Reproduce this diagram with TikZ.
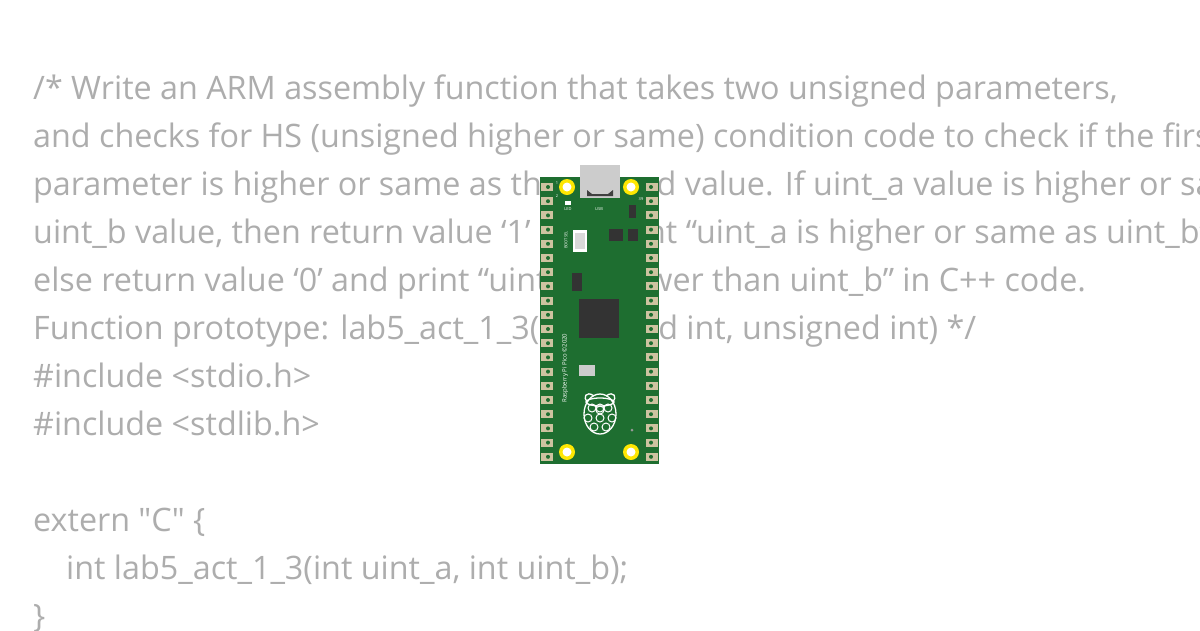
\documentclass[tikz,border=0pt]{standalone}
\usepackage{fontspec}
\setmainfont[Ligatures=TeXOff]{Open Sans}
\definecolor{pcb}{RGB}{30,110,48}
\definecolor{pad}{RGB}{205,195,160}
\begin{document}
\begin{tikzpicture}[x=1pt,y=-1pt,
  code/.style={anchor=base west,inner sep=0pt,text=black!32,font=\fontsize{32.3}{38}\selectfont},
  pin/.style={fill=pad,draw=none},
  hole/.style={fill=yellow!90!orange,draw=none},
  chip/.style={fill=black!80,draw=none},
  tiny/.style={font=\fontsize{4}{5}\selectfont,text=white,inner sep=0pt}]
\useasboundingbox (0,0) rectangle (1200,630);
\clip (0,0) rectangle (1200,630);
\fill[white] (0,0) rectangle (1200,630);
\foreach \t [count=\i] in {%
 {/* Write an ARM assembly function that takes two unsigned parameters,},
 {and checks for HS (unsigned higher or same) condition code to check if the first},
 {parameter is higher or same as the second value. If uint\_a value is higher or same as},
 {uint\_b value, then return value ‘1’ and print “uint\_a is higher or same as uint\_b”},
 {else return value ‘0’ and print “uint\_a is lower than uint\_b” in C++ code.},
 {Function prototype: lab5\_act\_1\_3(unsigned int, unsigned int) */},
 {\#include <stdio.h>},
 {\#include <stdlib.h>},
 {},
 {extern "C" \{},
 {\hspace{33pt}int lab5\_act\_1\_3(int uint\_a, int uint\_b);},
 {\}}}
 \node[code] (l\i) at (33,{51+48*\i}) {\t};
% board
\fill[pcb] (540,177) rectangle (659,464);
\node[fill=black!20,minimum width=40pt,minimum height=33pt,inner sep=0pt] (usb) at (600,181) {};
\fill[black!75] (587,190) -- (592,194) -- (608,194) -- (613,190) -- (613,196) -- (587,196) -- cycle;
\foreach \k in {0,...,19} {
  \fill[pin] (541,{183+14.2*\k}) rectangle (553,{191+14.2*\k});
  \fill[pin] (646,{183+14.2*\k}) rectangle (658,{191+14.2*\k});
  \fill[pcb] (548,{187+14.2*\k}) circle (2);
  \fill[pcb] (651,{187+14.2*\k}) circle (2);
}
\foreach \p in {(567,187),(631,187),(567,452),(631,452)} {
  \fill[hole] \p circle (8); \fill[white] \p circle (4.5);}
\fill[white] (565,201) rectangle (571,205);
\node[tiny] (led) at (568,209) {LED};
\node[tiny] (usbt) at (599,209) {USB};
\node[tiny] at (557,196) {2};
\node[tiny] at (641,199) {39};
\node[tiny] at (557,183) {1};
\fill[chip] (629,205) rectangle (636,218);
\fill[chip] (609,229) rectangle (623,241);
\fill[chip] (628,229) rectangle (638,241);
\fill[white] (573,230) rectangle (587,252);
\fill[black!15] (575,233) rectangle (585,249);
\node[rotate=90,tiny] at (566,240) {BOOTSEL};
\fill[chip] (572,273) rectangle (582,291);
\fill[black!80] (579,299) rectangle (619,338);
\fill[black!20] (579,365) rectangle (595,376);
\node[rotate=90,font=\fontsize{6}{7}\selectfont,text=white,inner sep=0pt] at (565,368) {Raspberry Pi Pico ©2020};
\begin{scope}[shift={(600,410)}]
  \draw[white,line width=1.3] (-6,-14) .. controls (-14,-20) and (-18,-12) .. (-12,-8);
  \draw[white,line width=1.3] (6,-14) .. controls (14,-20) and (18,-12) .. (12,-8);
  \draw[white,line width=1.3] (0,-8) ellipse (14 and 4);
  \draw[white,line width=1.3] (0,4) ellipse (16 and 20);
  \foreach \q in {(0,-2),(-8,-2),(8,-2),(-12,8),(0,8),(12,8),(-6,17),(6,17),(0,0)} \draw[white,line width=1] \q circle (4);
\end{scope}
\fill[black!40] (632,430) circle (1.5);
\end{tikzpicture}
\end{document}
